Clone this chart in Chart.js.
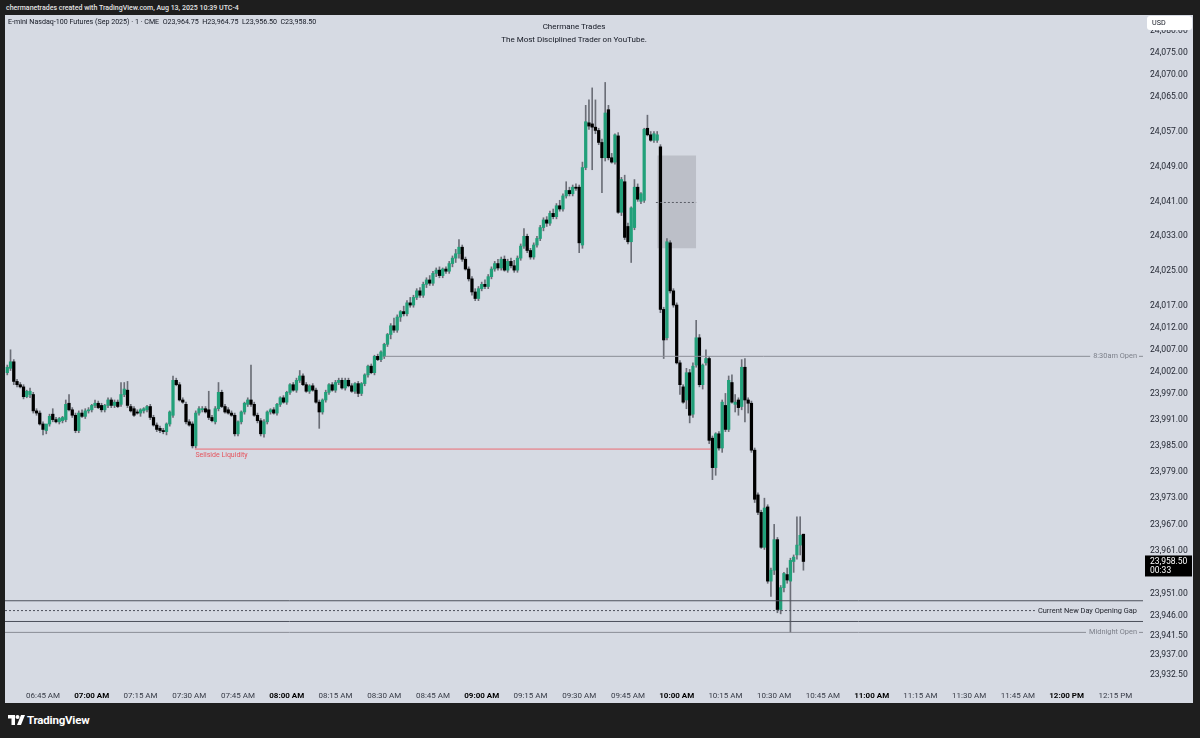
<!DOCTYPE html>
<html>
<head>
<meta charset="utf-8">
<title>E-mini Nasdaq-100 Futures (Sep 2025) 1m</title>
<script src="https://cdn.jsdelivr.net/npm/chart.js@4.4.1/dist/chart.umd.min.js"></script>
<style>
  body { margin: 0; width: 1200px; height: 738px; background: #1e1e1e; overflow: hidden; position: relative; font-family: Roboto, "Noto Sans", sans-serif; }
  #credit { position: absolute; left: 6px; top: 2px; color: #e4e4e4; font-size: 7px; font-weight: 500; line-height: 12px; }
  #panel { position: absolute; left: 5px; top: 15px; width: 1188px; height: 688px; background: #d6dae3; }
  #chart { position: absolute; left: 0; top: 0; }
  #symbol { position: absolute; left: 3px; top: 2px; font-size: 7.1px; line-height: 10px; color: #131722; white-space: pre; }
  #title { position: absolute; left: 0; top: 5px; width: 1138px; text-align: center; font-size: 8px; line-height: 13px; color: #131722; }
  #usd { position: absolute; left: 1142px; top: 1px; width: 45px; height: 14px; background: #fff; border-radius: 3px; font-size: 7.2px; line-height: 14px; padding-left: 5px; box-sizing: border-box; color: #131722; }
  #brand { position: absolute; left: 8px; top: 712px; height: 16px; color: #fff; font-size: 11.5px; font-weight: 700; line-height: 16px; }
  #brand svg { position: absolute; left: 0; top: 3px; }
  #brand span { position: absolute; left: 19px; top: 0; white-space: nowrap; letter-spacing: -0.2px; }
</style>
</head>
<body>
<div id="credit">chermanetrades created with TradingView.com, Aug 13, 2025 10:39 UTC-4</div>
<div id="panel">
  <canvas id="chart" width="1188" height="688"></canvas>
  <div id="symbol">E-mini Nasdaq-100 Futures (Sep 2025) · 1 · CME  O23,964.75  H23,964.75  L23,956.50  C23,958.50</div>
  <div id="title">Chermane Trades<br>The Most Disciplined Trader on YouTube.</div>
  <div id="usd">USD</div>
</div>
<div id="brand">
  <svg width="17" height="10" viewBox="0 0 17 10"><path d="M0 0h7v10H3.5V3.5H0z" fill="#fff"/><circle cx="9.5" cy="2" r="2" fill="#fff"/><path d="M13 0h4l-4 10H9z" fill="#fff"/></svg>
  <span>TradingView</span>
</div>
<script>
// first bar is 06:34 (minutes after midnight), one bar per minute
const firstMinute = 394;

// [open, high, low, close]  06:34 - 07:59
const barsEarly = [
  [24001.75, 24003.5, 24001.25, 24003.0], [24002.75, 24007.0, 24002.25, 24004.25], [24004.25, 24004.75, 23999.0, 23999.75],
  [23999.75, 24000.25, 23998.5, 23999.0], [23999.0, 23999.5, 23998.25, 23998.5], [23998.5, 23999.0, 23995.75, 23996.25],
  [23996.25, 23997.75, 23996.0, 23997.5], [23996.75, 23998.25, 23996.0, 23997.5], [23996.75, 23997.25, 23992.5, 23993.0],
  [23993.0, 23993.5, 23992.0, 23992.5], [23992.5, 23993.0, 23989.75, 23990.0], [23990.0, 23990.5, 23987.5, 23988.75],
  [23988.5, 23989.75, 23987.75, 23990.0], [23990.0, 23992.25, 23989.5, 23991.75], [23992.25, 23993.5, 23990.5, 23991.0],
  [23991.0, 23991.5, 23990.25, 23990.5], [23990.5, 23991.5, 23990.0, 23991.25], [23990.75, 23991.75, 23990.25, 23991.5],
  [23991.0, 23995.5, 23990.5, 23994.5], [23994.75, 23996.75, 23993.0, 23993.25], [23993.25, 23993.75, 23991.5, 23992.0],
  [23992.0, 23992.5, 23988.0, 23988.5], [23988.5, 23993.0, 23988.0, 23992.5], [23992.5, 23993.25, 23991.5, 23991.75],
  [23991.75, 23993.5, 23991.25, 23993.0], [23993.0, 23993.75, 23992.5, 23993.25], [23993.25, 23994.5, 23992.75, 23994.25],
  [23994.25, 23995.5, 23993.75, 23994.75], [23994.75, 23995.25, 23993.5, 23993.75], [23994.25, 23994.75, 23992.75, 23993.25],
  [23993.25, 23994.5, 23992.75, 23994.25], [23994.25, 23996.0, 23993.75, 23995.5], [23995.5, 23996.0, 23993.75, 23994.25],
  [23994.25, 23995.5, 23993.75, 23995.0], [23995.0, 23995.5, 23993.75, 23994.0], [23994.5, 23999.5, 23994.0, 23996.75],
  [23996.75, 23999.5, 23996.25, 23998.0], [23997.75, 23999.75, 23993.75, 23994.25], [23994.0, 23994.5, 23992.75, 23993.0],
  [23993.5, 23994.0, 23991.75, 23992.0], [23992.75, 23993.25, 23992.25, 23992.5], [23992.5, 23993.5, 23991.75, 23993.25],
  [23993.0, 23993.75, 23992.5, 23993.5], [23993.25, 23994.25, 23992.75, 23994.0], [23994.0, 23994.5, 23991.0, 23991.5],
  [23991.5, 23992.0, 23989.5, 23989.75], [23989.75, 23990.25, 23988.25, 23988.75], [23989.0, 23989.5, 23988.0, 23988.5],
  [23988.5, 23989.0, 23987.75, 23988.25], [23988.25, 23990.25, 23987.5, 23990.0], [23990.0, 23993.0, 23989.5, 23992.75],
  [23992.0, 24001.0, 23991.5, 24000.0], [24000.0, 24000.5, 23998.75, 23999.0], [23999.0, 23999.5, 23995.25, 23995.5],
  [23995.5, 23996.0, 23994.75, 23995.0], [23994.5, 23995.0, 23990.0, 23990.5], [23990.5, 23991.0, 23989.5, 23989.75],
  [23990.0, 23990.5, 23984.5, 23985.0], [23985.0, 23993.0, 23984.5, 23992.5], [23992.5, 23994.0, 23992.0, 23993.5],
  [23993.25, 23994.0, 23992.75, 23993.5], [23993.5, 23994.0, 23992.5, 23992.75], [23993.25, 23997.5, 23991.0, 23991.5],
  [23991.5, 23992.0, 23990.5, 23990.75], [23990.5, 23994.0, 23990.0, 23993.5], [23993.5, 23999.5, 23993.0, 23997.25],
  [23997.25, 23997.75, 23993.75, 23994.0], [23994.0, 23994.5, 23992.5, 23992.75], [23993.25, 23993.75, 23992.25, 23992.5],
  [23992.5, 23993.0, 23991.75, 23992.0], [23992.0, 23992.5, 23987.25, 23987.75], [23987.75, 23990.75, 23987.25, 23990.5],
  [23990.5, 23993.0, 23990.0, 23992.75], [23992.75, 23995.0, 23992.25, 23994.75], [23994.5, 23996.0, 23994.0, 23995.5],
  [23995.5, 24003.5, 23994.0, 23994.5], [23994.5, 23995.0, 23991.75, 23992.0], [23992.0, 23992.5, 23990.25, 23990.75],
  [23990.75, 23991.25, 23987.25, 23987.75], [23987.75, 23991.0, 23987.0, 23990.5], [23990.5, 23993.0, 23990.0, 23992.75],
  [23992.75, 23993.5, 23992.25, 23993.25], [23993.25, 23993.75, 23992.25, 23992.5], [23992.5, 23994.75, 23992.0, 23994.5],
  [23994.5, 23996.25, 23994.0, 23996.0], [23996.0, 23996.5, 23994.75, 23995.0]
];

// 08:00 - 09:29
const barsMid = [
  [23995.0, 23997.5, 23994.5, 23997.25], [23997.25, 23999.25, 23996.75, 23999.0], [23999.0, 23999.5, 23997.5, 23997.75],
  [23997.75, 24000.5, 23997.25, 24000.0], [24000.0, 24002.25, 23999.5, 24001.0], [24001.0, 24001.5, 23998.75, 23999.0],
  [23999.0, 23999.5, 23997.25, 23997.5], [23997.5, 23999.0, 23997.0, 23998.75], [23998.75, 23999.25, 23997.5, 23997.75],
  [23997.75, 23998.25, 23994.75, 23995.0], [23995.0, 23995.5, 23989.0, 23992.75], [23992.75, 23995.75, 23992.25, 23995.5],
  [23995.5, 23997.75, 23995.0, 23997.25], [23997.25, 23999.25, 23996.75, 23999.0], [23999.0, 23999.5, 23997.5, 23997.75],
  [23997.75, 24000.0, 23997.25, 23999.5], [23999.5, 24000.5, 23999.0, 24000.0], [24000.0, 24000.5, 23998.0, 23998.25],
  [23998.25, 24000.5, 23997.75, 24000.0], [24000.0, 24000.5, 23998.5, 23998.75], [23998.75, 23999.25, 23997.25, 23997.5],
  [23997.5, 23999.5, 23997.0, 23999.25], [23999.25, 23999.75, 23996.25, 23997.0], [23997.0, 23999.5, 23996.5, 23999.25],
  [23999.25, 24001.5, 23998.75, 24001.25], [24001.25, 24003.5, 24000.75, 24003.25], [24003.25, 24003.75, 24001.5, 24001.75],
  [24001.75, 24005.75, 24001.25, 24005.5], [24005.5, 24006.0, 24004.5, 24004.75], [24004.75, 24006.75, 24004.25, 24006.5],
  [24005.5, 24008.5, 24005.0, 24008.25], [24008.25, 24010.75, 24007.75, 24010.5], [24010.5, 24013.0, 24009.5, 24012.5],
  [24012.5, 24014.25, 24011.0, 24011.5], [24011.5, 24015.0, 24011.0, 24014.5], [24014.5, 24016.0, 24013.5, 24015.75],
  [24015.75, 24017.0, 24014.75, 24015.25], [24015.25, 24018.25, 24014.75, 24017.75], [24017.75, 24019.0, 24016.75, 24017.25],
  [24017.25, 24019.5, 24016.75, 24019.0], [24019.0, 24021.0, 24018.5, 24020.5], [24020.5, 24021.25, 24019.0, 24019.5],
  [24019.5, 24022.5, 24019.0, 24022.0], [24022.0, 24023.5, 24021.25, 24023.0], [24023.0, 24024.0, 24021.75, 24022.25],
  [24022.25, 24025.0, 24021.75, 24024.5], [24024.5, 24025.75, 24023.75, 24025.25], [24025.25, 24026.0, 24023.5, 24024.0],
  [24024.0, 24025.75, 24023.5, 24025.5], [24025.5, 24026.0, 24024.5, 24025.0], [24025.0, 24027.25, 24024.5, 24026.75],
  [24026.75, 24028.5, 24026.0, 24028.0], [24028.0, 24030.0, 24027.0, 24029.0], [24029.0, 24032.25, 24028.0, 24030.5],
  [24030.5, 24031.0, 24027.25, 24027.75], [24027.75, 24028.25, 24025.25, 24025.5], [24025.5, 24026.0, 24022.75, 24023.25],
  [24023.25, 24023.75, 24019.5, 24020.25], [24020.25, 24021.0, 24018.25, 24018.75], [24018.75, 24021.5, 24018.25, 24021.0],
  [24021.0, 24022.5, 24020.5, 24022.0], [24022.0, 24023.0, 24021.0, 24021.5], [24021.5, 24024.25, 24021.0, 24023.75],
  [24023.75, 24026.0, 24023.25, 24025.5], [24025.5, 24027.25, 24025.0, 24026.75], [24026.75, 24027.75, 24025.25, 24025.75],
  [24025.75, 24028.25, 24025.25, 24027.75], [24027.75, 24028.5, 24025.0, 24025.25], [24025.25, 24027.75, 24024.75, 24027.25],
  [24027.25, 24028.0, 24025.75, 24026.25], [24026.25, 24027.5, 24024.75, 24025.25], [24025.25, 24028.5, 24024.75, 24028.0],
  [24028.0, 24031.25, 24027.5, 24030.75], [24030.75, 24034.75, 24030.25, 24033.0], [24033.0, 24033.5, 24029.25, 24029.75],
  [24029.75, 24030.25, 24027.75, 24028.25], [24028.25, 24031.5, 24027.75, 24031.0], [24031.0, 24033.0, 24030.5, 24032.5],
  [24032.5, 24035.5, 24032.0, 24035.0], [24035.0, 24037.25, 24034.25, 24036.75], [24036.75, 24037.5, 24035.25, 24036.0],
  [24036.0, 24038.75, 24035.5, 24038.25], [24038.25, 24039.25, 24037.0, 24037.5], [24037.5, 24040.5, 24037.0, 24040.0],
  [24040.0, 24041.25, 24038.75, 24039.25], [24039.25, 24042.75, 24038.75, 24042.25], [24042.25, 24045.5, 24041.75, 24043.5],
  [24043.5, 24044.25, 24042.25, 24042.75], [24042.75, 24044.75, 24042.25, 24044.25], [24044.25, 24045.0, 24043.5, 24044.0]
];

// 09:30 - 10:39
const barsLate = [
  [24044.25, 24044.75, 24029.25, 24031.5], [24031.0, 24050.0, 24030.25, 24048.75], [24048.75, 24063.0, 24048.25, 24059.25],
  [24059.0, 24064.25, 24057.5, 24058.25], [24058.75, 24067.0, 24048.25, 24058.0], [24058.0, 24064.25, 24056.5, 24057.25],
  [24057.25, 24057.75, 24054.0, 24054.5], [24054.5, 24055.25, 24043.0, 24051.0], [24051.0, 24068.25, 24050.25, 24061.25],
  [24062.0, 24063.0, 24050.5, 24051.0], [24051.0, 24052.0, 24049.75, 24050.0], [24050.0, 24056.5, 24049.5, 24056.25],
  [24056.0, 24056.75, 24038.25, 24038.5], [24038.5, 24046.5, 24037.75, 24046.0], [24045.5, 24047.0, 24032.25, 24032.75],
  [24035.25, 24036.0, 24031.25, 24031.75], [24031.75, 24039.75, 24027.0, 24039.5], [24035.0, 24046.0, 24034.5, 24044.25],
  [24044.25, 24045.0, 24041.0, 24041.5], [24041.0, 24043.0, 24040.5, 24042.75], [24041.25, 24057.75, 24040.75, 24057.5],
  [24057.75, 24060.75, 24056.0, 24056.25], [24056.25, 24057.0, 24054.75, 24055.0], [24055.0, 24057.0, 24054.5, 24056.5],
  [24055.0, 24057.0, 24054.5, 24056.25], [24053.5, 24054.0, 24015.5, 24016.25], [24016.25, 24016.75, 24005.0, 24009.25],
  [24009.75, 24032.5, 24009.25, 24031.75], [24031.5, 24032.0, 24020.0, 24020.5], [24020.5, 24021.0, 24016.75, 24017.25],
  [24017.25, 24017.75, 24003.75, 24004.0], [24004.0, 24004.5, 23996.75, 23999.0], [23998.5, 23999.0, 23994.75, 23995.0],
  [23995.5, 24002.75, 23993.5, 24001.75], [24001.75, 24002.5, 23990.25, 23992.0], [23992.25, 24004.0, 23991.5, 24003.25],
  [24003.5, 24013.75, 24003.0, 24009.75], [24009.75, 24010.5, 23998.5, 23999.0], [23999.0, 24003.75, 23998.0, 24003.5],
  [24004.0, 24007.0, 24003.5, 24005.0], [24005.0, 24005.5, 23985.5, 23986.25], [23986.75, 23987.25, 23977.25, 23980.0],
  [23980.0, 23988.0, 23978.25, 23987.75], [23987.75, 23988.25, 23984.0, 23984.5], [23984.5, 23995.5, 23983.5, 23995.0],
  [23994.25, 23997.0, 23988.25, 23988.75], [23988.75, 24001.0, 23988.25, 24000.0], [23999.5, 24001.25, 23994.75, 23995.0],
  [23994.5, 23996.75, 23992.75, 23995.0], [23995.5, 23996.0, 23992.0, 23993.75], [23994.0, 24004.75, 23993.25, 24003.0],
  [24003.0, 24005.0, 23990.5, 23995.5], [23995.5, 23996.0, 23992.5, 23994.75], [23994.75, 23995.25, 23983.5, 23984.0],
  [23984.0, 23984.5, 23972.0, 23972.75], [23973.75, 23974.25, 23969.25, 23969.75], [23969.75, 23970.25, 23961.5, 23961.75],
  [23961.75, 23973.0, 23961.25, 23970.75], [23971.0, 23971.5, 23953.5, 23954.0], [23954.0, 23957.0, 23950.5, 23956.5],
  [23956.5, 23967.0, 23955.5, 23963.5], [23963.5, 23964.0, 23946.75, 23947.5], [23947.5, 23953.0, 23946.5, 23952.5],
  [23952.5, 23956.0, 23951.5, 23955.75], [23955.5, 23957.0, 23953.5, 23954.25], [23954.0, 23959.25, 23942.25, 23958.75],
  [23958.5, 23960.0, 23956.0, 23959.5], [23960.0, 23968.75, 23959.0, 23962.25], [23962.25, 23968.75, 23960.0, 23964.5],
  [23964.75, 23964.75, 23956.5, 23958.5]
];

// price axis labels as TradingView placed them
const priceTicks = [24080, 24075, 24070, 24065, 24057, 24049, 24041, 24033, 24025, 24017, 24012, 24007, 24002,
  23997, 23991, 23985, 23979, 23973, 23967, 23961, 23951, 23946, 23941.5, 23937, 23932.5];
const timeTicks = [405, 420, 435, 450, 465, 480, 495, 510, 525, 540, 555, 570, 585, 600, 615, 630, 645, 660, 675, 690, 705, 720, 735];
const timeLabels = ['06:45 AM', '07:00 AM', '07:15 AM', '07:30 AM', '07:45 AM', '08:00 AM', '08:15 AM', '08:30 AM',
  '08:45 AM', '09:00 AM', '09:15 AM', '09:30 AM', '09:45 AM', '10:00 AM', '10:15 AM', '10:30 AM', '10:45 AM',
  '11:00 AM', '11:15 AM', '11:30 AM', '11:45 AM', '12:00 PM', '12:15 PM'];

// drawn levels
const ndogHigh = 23949.5, ndogLow = 23944.75, ndogMid = 23947.25;
const midnightOpen = 23942.25;
const open830 = 24005.5;
const sellside = 23984.25;
const fvgTop = 24051.5, fvgBottom = 24030.25, fvgMid = 24040.75;
const lastPrice = 23958.5, countdown = '00:33';

const xMin = 393.3, xMax = 743.5;
const yMin = 23930.2, yMax = 24083.7;

const bg = '#d6dae3';
const upColor = '#22a07a';
const downColor = '#000000';
const wickColor = '#6b6e77';

const bars = barsEarly.concat(barsMid, barsLate);
const wickData = bars.map((b, i) => ({ x: firstMinute + i, y: [b[2], b[1]] }));
const bodyData = bars.map((b, i) => ({ x: firstMinute + i, y: [b[0], b[3]] }));
const bodyColors = bars.map(b => b[3] >= b[0] ? upColor : downColor);

function hline(price, x0, x1, color, dash, order) {
    return {
        type: 'line',
        data: [{ x: x0, y: price }, { x: x1, y: price }],
        borderColor: color,
        borderWidth: 1,
        borderDash: dash || [],
        pointRadius: 0,
        fill: false,
        order: order || 1
    };
}

const lineLabels = [
    { text: '8:30am Open', price: open830, color: '#7d808a' },
    { text: 'Current New Day Opening Gap', price: ndogMid, color: '#1c1f28' },
    { text: 'Midnight Open', price: midnightOpen, color: '#7d808a' }
];

const overlays = {
    id: 'overlays',
    afterDatasetsDraw(chart) {
        const { ctx, chartArea } = chart;
        const x = chart.scales.x, y = chart.scales.y;
        ctx.save();
        ctx.font = '7.4px Roboto';
        ctx.textBaseline = 'middle';
        ctx.textAlign = 'right';
        lineLabels.forEach(l => {
            const py = Math.round(y.getPixelForValue(l.price)) + 0.5;
            const right = chartArea.right - 6;
            const w = ctx.measureText(l.text).width;
            ctx.fillStyle = bg;
            ctx.fillRect(right - w - 3, py - 4, w + 5, 8);
            ctx.fillStyle = l.color;
            ctx.fillText(l.text, right, py);
        });
        // sellside label under the line
        ctx.textAlign = 'left';
        ctx.font = '7px Roboto';
        ctx.fillStyle = '#e5545d';
        ctx.fillText('Sellside Liquidity', x.getPixelForValue(451.9), y.getPixelForValue(sellside) + 6);
        ctx.restore();
    },
    afterDraw(chart) {
        const { ctx, chartArea } = chart;
        const y = chart.scales.y;
        const py = y.getPixelForValue(lastPrice);
        ctx.save();
        ctx.fillStyle = '#000';
        ctx.fillRect(chartArea.right + 2, py - 6, 47, 21);
        ctx.fillStyle = '#fff';
        ctx.font = '8.5px Roboto';
        ctx.textBaseline = 'middle';
        ctx.textAlign = 'left';
        ctx.fillText(lastPrice.toLocaleString('en-US', { minimumFractionDigits: 2 }), chartArea.right + 7, py);
        ctx.fillText(countdown, chartArea.right + 7, py + 9);
        ctx.restore();
    }
};

Chart.defaults.font.family = 'Roboto, "Noto Sans", sans-serif';

new Chart(document.getElementById('chart'), {
    type: 'bar',
    data: {
        datasets: [
            {
                type: 'line',
                data: [{ x: 594, y: fvgTop }, { x: 606, y: fvgTop }],
                borderWidth: 0,
                borderColor: 'rgba(0,0,0,0)',
                backgroundColor: '#bcbfc8',
                pointRadius: 0,
                fill: { value: fvgBottom },
                order: 10
            },
            {
                data: wickData,
                backgroundColor: wickColor,
                barThickness: 1,
                grouped: false,
                order: 5
            },
            {
                data: bodyData,
                backgroundColor: bodyColors,
                barThickness: 2.6,
                minBarLength: 1,
                grouped: false,
                order: 4
            },
            hline(ndogHigh, xMin, xMax, '#4c505b'),
            hline(ndogLow, xMin, xMax, '#4c505b'),
            hline(ndogMid, xMin, 712.3, '#4c505b', [2, 2]),
            hline(midnightOpen, xMin, xMax, '#8a8d96'),
            hline(open830, 510, xMax, '#8a8d96'),
            hline(sellside, 451.7, 610.6, '#ec6a72'),
            hline(fvgMid, 593.6, 606, '#5a5d66', [2, 2])
        ]
    },
    options: {
        responsive: false,
        devicePixelRatio: 1,
        animation: false,
        events: [],
        layout: { padding: 0 },
        plugins: { legend: { display: false }, tooltip: { enabled: false } },
        scales: {
            x: {
                type: 'linear',
                min: xMin,
                max: xMax,
                offset: false,
                grid: { display: false, drawTicks: false, offset: false },
                border: { display: false },
                afterBuildTicks: s => { s.ticks = timeTicks.map(v => ({ value: v })); },
                afterFit: s => { s.height = 18; s.paddingLeft = 0; s.paddingRight = 0; },
                ticks: {
                    autoSkip: false,
                    maxRotation: 0,
                    padding: 6,
                    color: ctx => timeLabels[ctx.index] && timeLabels[ctx.index].indexOf(':00') > 0 ? '#000' : '#363a45',
                    font: ctx => ({ size: 8, weight: timeLabels[ctx.index] && timeLabels[ctx.index].indexOf(':00') > 0 ? 'bold' : 'normal' }),
                    callback: (v, i) => timeLabels[i]
                }
            },
            y: {
                position: 'right',
                min: yMin,
                max: yMax,
                beginAtZero: false,
                grid: { display: false, drawTicks: false },
                border: { display: false },
                afterBuildTicks: s => { s.ticks = priceTicks.map(v => ({ value: v })); },
                // keep the plot flush with the panel top: no room reserved for the end labels
                afterFit: s => { s.width = 50; s.paddingTop = 0; s.paddingBottom = 0; },
                ticks: {
                    padding: 7,
                    color: '#1e222d',
                    font: { size: 8.6 },
                    callback: v => v.toLocaleString('en-US', { minimumFractionDigits: 2, maximumFractionDigits: 2 })
                }
            }
        }
    },
    plugins: [overlays]
});
</script>
</body>
</html>
